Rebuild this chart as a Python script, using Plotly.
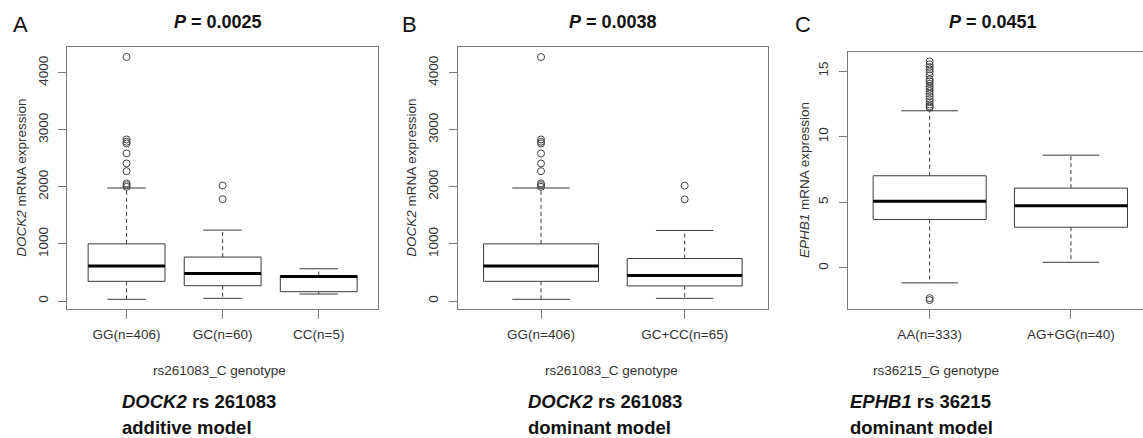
import plotly.graph_objects as go

W, H = 1143, 438

# ---------------- data ----------------
A_cats = ["GG(n=406)", "GC(n=60)", "CC(n=5)"]
A_lower = [30, 47, 122]
A_q1 = [345, 268, 163]
A_med = [613, 484, 431]
A_q3 = [1001, 770, 445]
A_upper = [1980, 1242, 565]
A_out = [
    [4275, 2830, 2790, 2760, 2585, 2410, 2275, 2060, 2030, 2000],
    [2023, 1784],
    [],
]

B_cats = ["GG(n=406)", "GC+CC(n=65)"]
B_lower = [30, 47]
B_q1 = [345, 264]
B_med = [613, 445]
B_q3 = [1001, 744]
B_upper = [1980, 1236]
B_out = [
    [4275, 2830, 2790, 2760, 2585, 2410, 2275, 2060, 2030, 2000],
    [2021, 1781],
]

C_cats = ["AA(n=333)", "AG+GG(n=40)"]
C_lower = [-1.14, 0.43]
C_q1 = [3.69, 3.10]
C_med = [5.08, 4.73]
C_q3 = [7.02, 6.08]
C_upper = [11.97, 8.59]
C_out = [
    [15.73, 15.5, 15.3, 15.12, 14.92, 14.67, 14.36, 14.21, 14.03, 13.83,
     13.65, 13.47, 13.27, 13.07, 12.86, 12.63, 12.45, 12.30, 12.2,
     -2.3, -2.45],
    [],
]

A_ticks = [0, 1000, 2000, 3000, 4000]
C_ticks = [0, 5, 10, 15]

FONT = "Arial, Liberation Sans, sans-serif"
FRAME = "#7a7a7a"
BOXC = "#3a3a3a"

fig = go.Figure()


def add_boxes(xa, ya, lower, q1, med, q3, upper, outs):
    bx, by, mx, my, wx, wy, cx, cy, ox, oy = [], [], [], [], [], [], [], [], [], []
    hw, cw = 0.4, 0.2
    for i in range(len(med)):
        p = i + 1
        bx += [p - hw, p + hw, p + hw, p - hw, p - hw, None]
        by += [q1[i], q1[i], q3[i], q3[i], q1[i], None]
        mx += [p - hw, p + hw, None]
        my += [med[i], med[i], None]
        wx += [p, p, None, p, p, None]
        wy += [q3[i], upper[i], None, q1[i], lower[i], None]
        cx += [p - cw, p + cw, None, p - cw, p + cw, None]
        cy += [upper[i], upper[i], None, lower[i], lower[i], None]
        for v in outs[i]:
            ox.append(p)
            oy.append(v)
    common = dict(xaxis=xa, yaxis=ya, showlegend=False, hoverinfo="skip")
    fig.add_trace(go.Scatter(x=wx, y=wy, mode="lines",
                             line=dict(color=BOXC, width=1, dash="4px,3px"), **common))
    fig.add_trace(go.Scatter(x=cx, y=cy, mode="lines",
                             line=dict(color=BOXC, width=1), **common))
    fig.add_trace(go.Scatter(x=bx, y=by, mode="lines",
                             line=dict(color=BOXC, width=1), **common))
    fig.add_trace(go.Scatter(x=mx, y=my, mode="lines",
                             line=dict(color="#000000", width=3), **common))
    if ox:
        fig.add_trace(go.Scatter(x=ox, y=oy, mode="markers",
                                 marker=dict(symbol="circle-open", size=7,
                                             color="#444444", line=dict(width=1)),
                                 **common))


add_boxes("x", "y", A_lower, A_q1, A_med, A_q3, A_upper, A_out)
add_boxes("x2", "y2", B_lower, B_q1, B_med, B_q3, B_upper, B_out)
add_boxes("x3", "y3", C_lower, C_q1, C_med, C_q3, C_upper, C_out)


def px(v):
    return v / W


def py(v):
    return 1 - v / H


tickfont = dict(family=FONT, size=13.5, color="#333333")
xcommon = dict(showgrid=False, zeroline=False, showline=True, linecolor=FRAME,
               linewidth=1, ticks="outside", ticklen=9, tickcolor=FRAME,
               tickfont=tickfont, ticklabelstandoff=4)
ycommon = dict(showgrid=False, zeroline=False, showline=True, linecolor=FRAME,
               linewidth=1, ticks="outside", ticklen=8, tickcolor=FRAME,
               tickfont=tickfont, tickangle=-90, ticklabelstandoff=5)

fig.update_layout(
    width=W, height=H,
    margin=dict(l=0, r=0, t=0, b=0),
    paper_bgcolor="white", plot_bgcolor="white",
    xaxis=dict(domain=[px(67), px(378.3)], range=[0.38, 3.62],
               tickvals=[1, 2, 3], ticktext=A_cats, mirror=True, anchor="y", **xcommon),
    yaxis=dict(domain=[py(309), py(47)], range=[-140, 4450],
               tickvals=A_ticks, mirror=True, anchor="x", **ycommon),
    xaxis2=dict(domain=[px(457.7), px(768)], range=[0.42, 2.58],
                tickvals=[1, 2], ticktext=B_cats, mirror=True, anchor="y2", **xcommon),
    yaxis2=dict(domain=[py(309), py(47)], range=[-140, 4450],
                tickvals=A_ticks, mirror=True, anchor="x2", **ycommon),
    xaxis3=dict(domain=[px(847.7), 1.0], range=[0.42, 2.51],
                tickvals=[1, 2], ticktext=C_cats, mirror=True, anchor="y3", **xcommon),
    yaxis3=dict(domain=[py(309), py(51.7)], range=[-3.13, 16.47],
                tickvals=C_ticks, mirror=False, anchor="x3", **ycommon),
)

ann = []


def add_text(x, y, text, size, xanchor="center", angle=0, color="#111111"):
    ann.append(dict(x=px(x), y=py(y), xref="paper", yref="paper", text=text,
                    showarrow=False, xanchor=xanchor, yanchor="middle",
                    textangle=angle, font=dict(family=FONT, size=size, color=color)))


# panel letters
add_text(20.5, 25, "A", 22)
add_text(409, 25, "B", 22)
add_text(803, 25, "C", 22)
# P titles
add_text(218, 21.7, "<b><i>P</i> = 0.0025</b>", 18)
add_text(612.8, 21.7, "<b><i>P</i> = 0.0038</b>", 18)
add_text(992.8, 21.7, "<b><i>P</i> = 0.0451</b>", 18)
# y titles
add_text(21.7, 178, "<i>DOCK2</i> mRNA expression", 13.5, angle=-90, color="#333333")
add_text(411.7, 178, "<i>DOCK2</i> mRNA expression", 13.5, angle=-90, color="#333333")
add_text(804, 180, "<i>EPHB1</i> mRNA expression", 13.5, angle=-90, color="#333333")
# x titles
add_text(219.7, 370.7, "rs261083_C genotype", 13.5, color="#333333")
add_text(611, 370.7, "rs261083_C genotype", 13.5, color="#333333")
add_text(936, 370.7, "rs36215_G genotype", 13.5, color="#333333")
# captions
add_text(120, 401.7, "<b><i>DOCK2</i> rs 261083</b>", 18.5, xanchor="left")
add_text(120, 427.3, "<b>additive model</b>", 18.5, xanchor="left")
add_text(526, 401.7, "<b><i>DOCK2</i> rs 261083</b>", 18.5, xanchor="left")
add_text(526, 427.3, "<b>dominant model</b>", 18.5, xanchor="left")
add_text(848, 401.7, "<b><i>EPHB1</i> rs 36215</b>", 18.5, xanchor="left")
add_text(848, 427.3, "<b>dominant model</b>", 18.5, xanchor="left")

fig.update_layout(annotations=ann)

fig.write_html("out.html")
